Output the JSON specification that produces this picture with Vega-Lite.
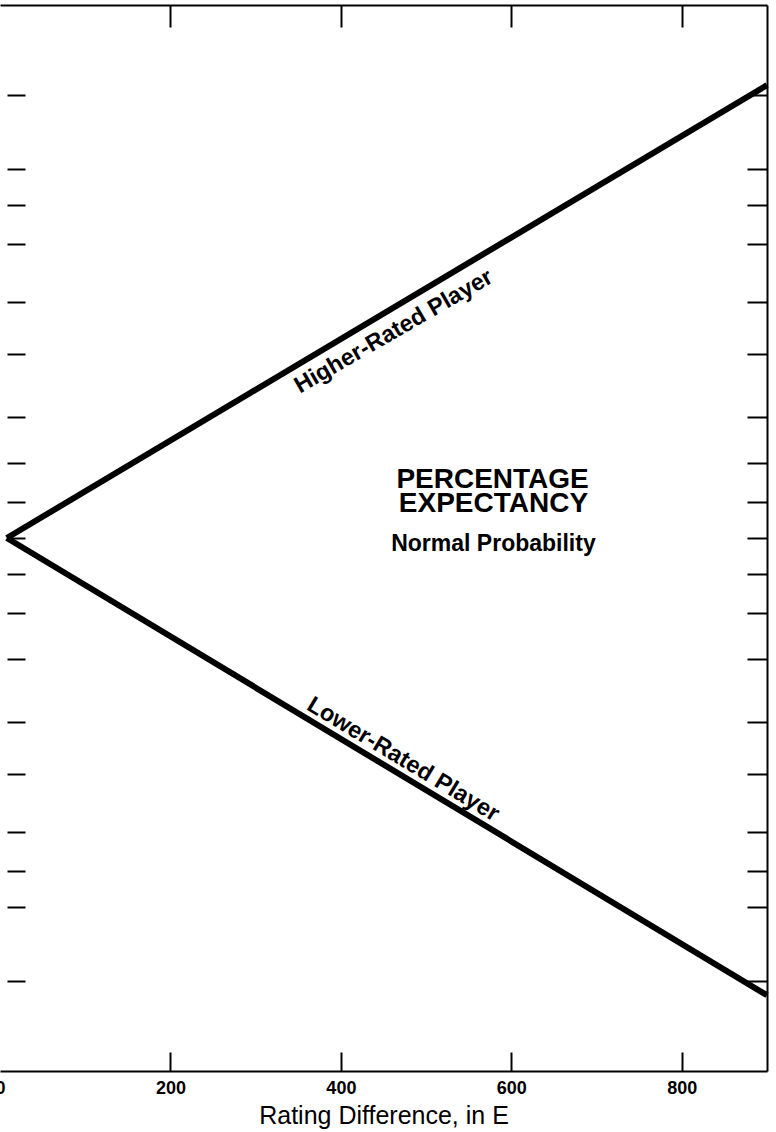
{
  "$schema": "https://vega.github.io/schema/vega-lite/v6.json",
  "width": 767,
  "height": 1066,
  "autosize": {"type": "none"},
  "padding": {"left": 0, "top": 5, "right": 9, "bottom": 61},
  "background": "white",
  "config": {
    "view": {"stroke": null},
    "font": "Liberation Sans",
    "axis": {
      "grid": false,
      "domainColor": "black",
      "tickColor": "black",
      "domainWidth": 2,
      "tickWidth": 2,
      "labelColor": "black",
      "titleColor": "black"
    }
  },
  "datasets": {
    "lines": [
      {"series": "Higher-Rated Player", "D": 8, "z": 0},
      {"series": "Higher-Rated Player", "D": 900, "z": 3.16},
      {"series": "Lower-Rated Player", "D": 8, "z": 0},
      {"series": "Lower-Rated Player", "D": 900, "z": -3.19}
    ],
    "notes": [
      {"note": "PERCENTAGE", "D": 578, "z": 0.349},
      {"note": "EXPECTANCY", "D": 579, "z": 0.181},
      {"note": "Normal Probability", "D": 579, "z": -0.091},
      {"note": "Higher-Rated Player", "D": 462, "z": 1.441},
      {"note": "Lower-Rated Player", "D": 473, "z": -1.545}
    ]
  },
  "layer": [
    {
      "data": {"name": "lines"},
      "mark": {"type": "line", "color": "black", "strokeWidth": 6, "clip": false},
      "encoding": {
        "x": {
          "field": "D", "type": "quantitative",
          "scale": {"domain": [0, 900], "nice": false, "zero": false},
          "axis": {
            "orient": "bottom",
            "values": [0, 200, 400, 600, 800],
            "tickSize": -19,
            "tickOpacity": {"condition": {"test": "datum.value == 0", "value": 0}, "value": 1},
            "labelFont": "Liberation Sans",
            "labelFontSize": 18,
            "labelFontWeight": "bold",
            "labelFlush": false,
            "labelOverlap": false,
            "labelBound": false,
            "labelBaseline": "alphabetic",
            "labelPadding": 41.5,
            "title": "Rating Difference, in E",
            "titleFont": "Liberation Sans",
            "titleFontSize": 25,
            "titleFontWeight": "normal",
            "titleX": 383.5,
            "titleY": 52,
            "titleAlign": "center",
            "titleBaseline": "alphabetic",
            "titleAnchor": null
          }
        },
        "y": {
          "field": "z", "type": "quantitative",
          "scale": {"domain": [-3.719, 3.719], "nice": false, "zero": false},
          "axis": {
            "orient": "left",
            "values": [-3.0902, -2.5758, -2.3263, -2.0537, -1.6449, -1.2816, -0.8416, -0.5244, -0.2533, 0, 0.2533, 0.5244, 0.8416, 1.2816, 1.6449, 2.0537, 2.3263, 2.5758, 3.0902],
            "domain": false,
            "offset": -7,
            "tickSize": -18,
            "labels": false,
            "title": null
          }
        },
        "detail": {"field": "series", "type": "nominal"}
      }
    },
    {
      "data": {"name": "notes"},
      "transform": [{"filter": "datum.note == 'PERCENTAGE' || datum.note == 'EXPECTANCY'"}],
      "mark": {"type": "text", "font": "Liberation Sans", "fontWeight": "bold", "fontSize": 28, "align": "center", "baseline": "alphabetic", "color": "black"},
      "encoding": {
        "x": {
          "field": "D", "type": "quantitative",
          "axis": {
            "orient": "top",
            "values": [0, 200, 400, 600, 800],
            "tickSize": -22,
            "tickOpacity": {"condition": {"test": "datum.value == 0", "value": 0}, "value": 1},
            "labels": false,
            "title": null
          }
        },
        "y": {
          "field": "z", "type": "quantitative",
          "axis": {
            "orient": "right",
            "values": [-3.0902, -2.5758, -2.3263, -2.0537, -1.6449, -1.2816, -0.8416, -0.5244, -0.2533, 0, 0.2533, 0.5244, 0.8416, 1.2816, 1.6449, 2.0537, 2.3263, 2.5758, 3.0902],
            "tickSize": -20,
            "labels": false,
            "title": null
          }
        },
        "text": {"field": "note", "type": "nominal"}
      }
    },
    {
      "data": {"name": "notes"},
      "transform": [{"filter": "datum.note == 'Normal Probability'"}],
      "mark": {"type": "text", "font": "Liberation Sans", "fontWeight": "bold", "fontSize": 23, "align": "center", "baseline": "alphabetic", "color": "black"},
      "encoding": {
        "x": {"field": "D", "type": "quantitative", "axis": null},
        "y": {"field": "z", "type": "quantitative", "axis": null},
        "text": {"field": "note", "type": "nominal"}
      }
    },
    {
      "data": {"name": "notes"},
      "transform": [{"filter": "datum.note == 'Higher-Rated Player'"}],
      "mark": {"type": "text", "font": "Liberation Sans", "fontWeight": "bold", "fontSize": 23.5, "align": "center", "baseline": "middle", "angle": -30, "color": "black"},
      "encoding": {
        "x": {"field": "D", "type": "quantitative", "axis": null},
        "y": {"field": "z", "type": "quantitative", "axis": null},
        "text": {"field": "note", "type": "nominal"}
      }
    },
    {
      "data": {"name": "notes"},
      "transform": [{"filter": "datum.note == 'Lower-Rated Player'"}],
      "mark": {"type": "text", "font": "Liberation Sans", "fontWeight": "bold", "fontSize": 23.5, "align": "center", "baseline": "middle", "angle": 31, "color": "black"},
      "encoding": {
        "x": {"field": "D", "type": "quantitative", "axis": null},
        "y": {"field": "z", "type": "quantitative", "axis": null},
        "text": {"field": "note", "type": "nominal"}
      }
    }
  ],
  "resolve": {"axis": {"x": "independent", "y": "independent"}}
}
